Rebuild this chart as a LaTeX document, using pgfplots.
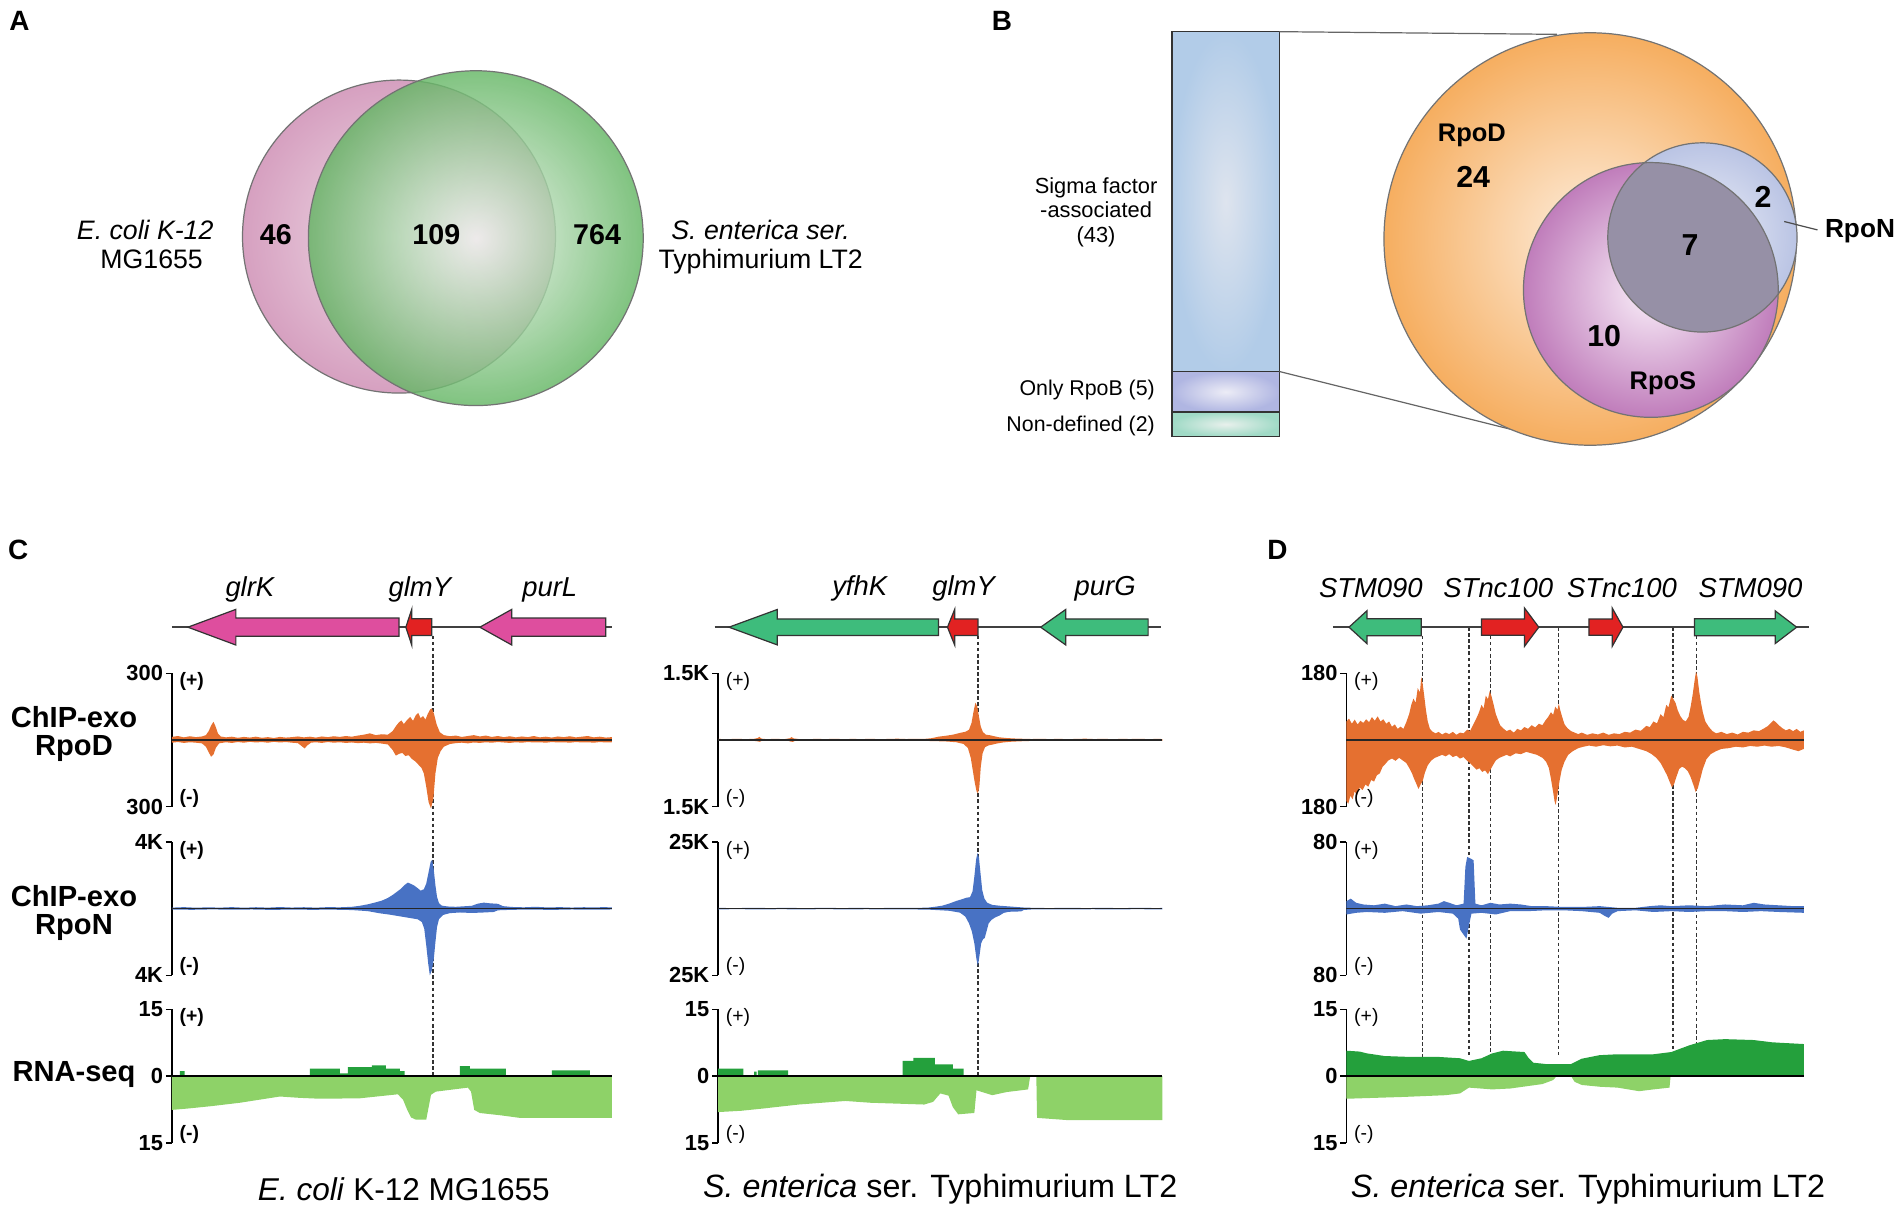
\documentclass[border=0pt]{standalone}
\usepackage{fontspec}
\setmainfont{Liberation Sans}
\usepackage{pgfplots}
\pgfplotsset{compat=1.18}

\definecolor{pkO}{RGB}{214,160,192}
\definecolor{pkI}{RGB}{240,222,232}
\definecolor{grO}{RGB}{100,182,100}
\definecolor{grI}{RGB}{240,244,240}
\definecolor{orO}{RGB}{246,174,96}
\definecolor{orI}{RGB}{253,238,222}
\definecolor{puO}{RGB}{192,125,187}
\definecolor{puI}{RGB}{250,240,250}
\definecolor{nbO}{RGB}{186,196,228}
\definecolor{nbI}{RGB}{238,240,248}
\definecolor{isx}{RGB}{150,144,166}
\definecolor{brB}{RGB}{178,204,232}
\definecolor{brBi}{RGB}{222,228,238}
\definecolor{brP}{RGB}{176,182,226}
\definecolor{brPi}{RGB}{236,236,246}
\definecolor{brT}{RGB}{160,218,198}
\definecolor{brTi}{RGB}{232,240,236}
\definecolor{cOr}{RGB}{229,112,48}
\definecolor{cBl}{RGB}{72,114,196}
\definecolor{cDg}{RGB}{36,160,60}
\definecolor{cLg}{RGB}{142,210,104}
\definecolor{gPk}{RGB}{222,78,158}
\definecolor{gRd}{RGB}{226,34,34}
\definecolor{gGr}{RGB}{62,188,124}

\pgfplotsset{
  trk/.style={scale only axis, anchor=south west, height=55pt, clip=false,
    axis x line=none, axis y line*=left, scaled y ticks=false,
    ymin=-#1, ymax=#1, ytick={-#1,#1},
    tick align=outside, major tick length=2.5pt,
    y axis line style={line width=0.6pt},
    ytick style={line width=0.6pt, black},
    yticklabel style={font=\fontsize{9}{10}\selectfont\bfseries, inner sep=1pt}},
  gene/.style={scale only axis, anchor=south west, height=15pt, hide axis,
    clip=false, ymin=-15, ymax=15},
  colA/.style={xmin=430, xmax=1530, width=181.3pt},
  colB/.style={xmin=275, xmax=1515, width=183.1pt},
  colC/.style={xmin=243, xmax=1520, width=188.5pt},
}
\tikzset{
  glab/.style={font=\fontsize{11.3}{12}\selectfont\itshape},
  garr/.style={draw=black!80, line width=0.5pt},
  dsh/.style={black!80, line width=0.55pt, dash pattern=on 1.5pt off 1pt},
  base/.style={black!85, line width=0.6pt},
  pplus/.style={anchor=west, inner sep=0pt, xshift=3pt, yshift=-3.5pt, font=\fontsize{8}{9}\selectfont#1},
  pminus/.style={anchor=west, inner sep=0pt, xshift=3pt, yshift=3.5pt, font=\fontsize{8}{9}\selectfont#1},
  vline/.style={draw=black!55, line width=0.5pt},
}

\begin{document}
\begin{tikzpicture}
% ---------- frame in picture pixels: panels A, B, labels ----------
\begin{axis}[name=bg, at={(0pt,0pt)}, anchor=south west, scale only axis,
  width=784pt, height=499.5pt, xmin=0, xmax=1568, ymin=0, ymax=999,
  y dir=reverse, hide axis, clip=false]
\path (axis cs:0,0) rectangle (axis cs:1568,999);

% panel A
\shade[inner color=pkI, outer color=pkO] (axis cs:328.9,195) circle[radius=64.5pt];
\draw[vline] (axis cs:328.9,195) circle[radius=64.5pt];
\shade[inner color=grI, outer color=grO, opacity=0.82] (axis cs:392.2,196.3) circle[radius=69pt];
\draw[vline] (axis cs:392.2,196.3) circle[radius=69pt];
\node[font=\fontsize{11}{12}\selectfont\itshape, anchor=east] at (axis cs:183,189.5) {E. coli K-12};
\node[font=\fontsize{11}{12}\selectfont] at (axis cs:125,214) {MG1655};
\node[font=\fontsize{11}{12}\selectfont\itshape] at (axis cs:627,189.5) {S. enterica ser.};
\node[font=\fontsize{11}{12}\selectfont] at (axis cs:627,215.6) {Typhimurium LT2};
\node[font=\fontsize{11.8}{12}\selectfont\bfseries] at (axis cs:227.4,193.6) {46};
\node[font=\fontsize{11.8}{12}\selectfont\bfseries] at (axis cs:359.7,193.6) {109};
\node[font=\fontsize{11.8}{12}\selectfont\bfseries] at (axis cs:492.2,193.6) {764};

% panel B
\shade[inner color=brBi, outer color=brB] (axis cs:966,26.1) rectangle (axis cs:1054.6,306.2);
\shade[inner color=brPi, outer color=brP] (axis cs:966,306.2) rectangle (axis cs:1054.6,339.7);
\shade[inner color=brTi, outer color=brT] (axis cs:966,339.7) rectangle (axis cs:1054.6,359.7);
\draw[black!80, line width=0.5pt] (axis cs:966,26.1) rectangle (axis cs:1054.6,359.7);
\draw[black!80, line width=0.7pt] (axis cs:966,306.2) -- (axis cs:1054.6,306.2);
\draw[black!80, line width=0.7pt] (axis cs:966,339.7) -- (axis cs:1054.6,339.7);
\draw[black!60, line width=0.5pt] (axis cs:1054.6,26.1) -- (axis cs:1283.4,28.3);
\draw[black!60, line width=0.5pt] (axis cs:1054.6,306.2) -- (axis cs:1258,357);
\shade[inner color=orI, outer color=orO] (axis cs:1310.8,197) circle[radius=85pt];
\draw[vline] (axis cs:1310.8,197) circle[radius=85pt];
\shade[inner color=puI, outer color=puO] (axis cs:1360.8,239) circle[radius=52.5pt];
\shade[inner color=nbI, outer color=nbO] (axis cs:1403.3,195.7) circle[radius=39pt];
\begin{scope}
\clip (axis cs:1360.8,239) circle[radius=52.5pt];
\fill[isx] (axis cs:1403.3,195.7) circle[radius=39pt];
\end{scope}
\draw[vline] (axis cs:1360.8,239) circle[radius=52.5pt];
\draw[vline] (axis cs:1403.3,195.7) circle[radius=39pt];
\draw[black!70, line width=0.5pt] (axis cs:1470.7,182.6) -- (axis cs:1498.2,189.5);
\node[font=\fontsize{9}{10}\selectfont, align=center] at (axis cs:903.5,175) {Sigma factor\\-associated\\(43)};
\node[font=\fontsize{8.8}{10}\selectfont, anchor=east] at (axis cs:959,321.3) {Only RpoB (5)};
\node[font=\fontsize{8.8}{10}\selectfont, anchor=east] at (axis cs:959,351.5) {Non-defined (2)};
\node[font=\fontsize{10.5}{12}\selectfont\bfseries] at (axis cs:1213.3,111.2) {RpoD};
\node[font=\fontsize{12.5}{13}\selectfont\bfseries] at (axis cs:1214.3,145.5) {24};
\node[font=\fontsize{12.5}{13}\selectfont\bfseries] at (axis cs:1453.2,162) {2};
\node[font=\fontsize{12.5}{13}\selectfont\bfseries] at (axis cs:1393.2,201.8) {7};
\node[font=\fontsize{12.5}{13}\selectfont\bfseries] at (axis cs:1322.3,277.3) {10};
\node[font=\fontsize{10.5}{12}\selectfont\bfseries] at (axis cs:1370.7,315.8) {RpoS};
\node[font=\fontsize{10.8}{12}\selectfont\bfseries] at (axis cs:1533.2,190.8) {RpoN};

% panel letters
\node[font=\fontsize{11.5}{12}\selectfont\bfseries] at (axis cs:16,17) {A};
\node[font=\fontsize{11.5}{12}\selectfont\bfseries] at (axis cs:826,17) {B};
\node[font=\fontsize{11.5}{12}\selectfont\bfseries] at (axis cs:15,453) {C};
\node[font=\fontsize{11.5}{12}\selectfont\bfseries] at (axis cs:1053,453) {D};

% row labels and captions
\node[font=\fontsize{12}{11.7}\selectfont\bfseries, align=center] at (axis cs:61,605) {ChIP-exo\\RpoD};
\node[font=\fontsize{12}{11.7}\selectfont\bfseries, align=center] at (axis cs:61,752.4) {ChIP-exo\\RpoN};
\node[font=\fontsize{12}{12}\selectfont\bfseries] at (axis cs:61,885.7) {RNA-seq};
\node[font=\fontsize{13}{14}\selectfont] at (axis cs:332.9,980) {\textit{E. coli} K-12 MG1655};
\node[font=\fontsize{13.3}{14}\selectfont] at (axis cs:775,980) {\textit{S. enterica} ser. Typhimurium LT2};
\node[font=\fontsize{13.3}{14}\selectfont] at (axis cs:1309,980) {\textit{S. enterica} ser. Typhimurium LT2};

% anchors of the track axes (south west corners)
\coordinate (Ag) at (axis cs:141.7,532);
\coordinate (Ad) at (axis cs:141.7,665);
\coordinate (An) at (axis cs:141.7,804);
\coordinate (Ar) at (axis cs:141.7,942);
\coordinate (Bg) at (axis cs:592.0,532);
\coordinate (Bd) at (axis cs:592.0,665);
\coordinate (Bn) at (axis cs:592.0,804);
\coordinate (Br) at (axis cs:592.0,942);
\coordinate (Cg) at (axis cs:1109.9,532);
\coordinate (Cd) at (axis cs:1109.9,665);
\coordinate (Cn) at (axis cs:1109.9,804);
\coordinate (Cr) at (axis cs:1109.9,942);
\end{axis}

% ================= column 1: E. coli =================
\begin{axis}[gene, colA, at={(Ag)}]
\addplot[dsh] coordinates {(1083,-7) (1083,-369)};
\addplot[black!75, line width=0.6pt] coordinates {(430,0) (1530,0)};
\addplot[garr, fill=gPk] coordinates {(998,7.5) (590,7.5) (590,14.7) (470,0) (590,-14.7) (590,-7.5) (998,-7.5)} -- cycle;
\addplot[garr, fill=gRd] coordinates {(1080,6.9) (1030,6.9) (1030,15) (1015,0) (1030,-15) (1030,-6.9) (1080,-6.9)} -- cycle;
\addplot[garr, fill=gPk] coordinates {(1515,7.5) (1280,7.5) (1280,14.7) (1200,0) (1280,-14.7) (1280,-7.5) (1515,-7.5)} -- cycle;
\node[glab] at (axis cs:625,31) {glrK};
\node[glab] at (axis cs:1050,31) {glmY};
\node[glab] at (axis cs:1375,31) {purL};
\end{axis}

\begin{axis}[trk=300, colA, at={(Ad)}, yticklabels={300,300}]
\addplot[fill=cOr, draw=none] coordinates {(430,0)(430,14)(445,18)(460,12)(475,17)(490,13)(505,16)(515,22)(522,40)(528,65)(534,82)(539,62)(545,30)(552,16)(565,12)(580,15)(595,10)(610,14)(625,11)(640,15)(655,10)(670,13)(685,9)(700,14)(715,11)(730,13)(745,16)(760,12)(775,15)(790,11)(805,16)(820,13)(835,17)(850,14)(865,18)(880,15)(895,20)(910,24)(925,30)(940,22)(955,26)(970,24)(982,40)(990,62)(998,80)(1004,88)(1010,72)(1018,90)(1026,104)(1033,86)(1040,112)(1046,122)(1052,98)(1058,108)(1064,92)(1070,118)(1076,138)(1080,142)(1085,120)(1092,70)(1100,35)(1110,22)(1125,17)(1140,20)(1155,14)(1170,18)(1185,22)(1200,16)(1215,20)(1230,14)(1245,18)(1260,13)(1275,17)(1290,12)(1305,16)(1320,13)(1335,18)(1350,12)(1365,15)(1380,11)(1395,16)(1410,13)(1425,17)(1440,12)(1455,15)(1470,18)(1485,12)(1500,15)(1515,11)(1530,13)(1530,0)};
\addplot[fill=cOr, draw=none] coordinates {(430,0)(430,-12)(445,-9)(460,-13)(475,-10)(490,-12)(505,-15)(515,-30)(522,-55)(528,-75)(534,-65)(540,-35)(548,-15)(565,-10)(580,-13)(595,-9)(610,-12)(625,-8)(640,-11)(655,-9)(670,-12)(685,-8)(700,-11)(715,-9)(730,-12)(745,-14)(755,-28)(762,-38)(768,-25)(778,-12)(790,-10)(805,-13)(820,-9)(835,-12)(850,-10)(865,-13)(880,-11)(895,-14)(910,-12)(925,-15)(940,-13)(955,-16)(970,-20)(982,-45)(990,-70)(998,-62)(1006,-58)(1014,-72)(1022,-68)(1030,-85)(1038,-95)(1046,-110)(1054,-125)(1060,-150)(1066,-210)(1072,-280)(1078,-308)(1084,-260)(1089,-150)(1095,-80)(1102,-50)(1110,-30)(1125,-18)(1140,-14)(1155,-12)(1170,-15)(1185,-11)(1200,-13)(1215,-10)(1230,-12)(1245,-9)(1260,-11)(1275,-13)(1290,-10)(1305,-12)(1320,-9)(1335,-11)(1350,-10)(1365,-12)(1380,-9)(1395,-11)(1410,-10)(1425,-12)(1440,-9)(1455,-11)(1470,-10)(1485,-12)(1500,-9)(1515,-11)(1530,-10)(1530,0)};
\addplot[base] coordinates {(430,0) (1530,0)};
\node[pplus=\bfseries] at (rel axis cs:0,1) {(+)};
\node[pminus=\bfseries] at (rel axis cs:0,0) {(-)};
\end{axis}

\begin{axis}[trk=4000, colA, at={(An)}, yticklabels={4K,4K}]
\addplot[fill=cBl, draw=none] coordinates {(430,0)(430,60)(460,90)(490,55)(520,80)(550,60)(580,90)(610,55)(640,85)(670,60)(700,95)(730,65)(760,85)(790,60)(820,90)(850,80)(880,110)(900,170)(920,260)(940,380)(955,480)(970,640)(982,820)(992,1000)(1002,1180)(1012,1420)(1020,1560)(1028,1480)(1036,1380)(1044,1240)(1052,1080)(1060,1160)(1066,1500)(1072,2200)(1077,2800)(1081,2930)(1085,2300)(1089,1400)(1093,700)(1098,320)(1105,180)(1120,130)(1140,110)(1160,140)(1180,170)(1195,300)(1210,360)(1225,320)(1245,290)(1258,150)(1280,100)(1310,80)(1340,110)(1370,70)(1400,90)(1430,65)(1460,85)(1490,70)(1510,95)(1530,70)(1530,0)};
\addplot[fill=cBl, draw=none] coordinates {(430,0)(430,-50)(480,-70)(530,-45)(580,-65)(630,-50)(680,-75)(730,-55)(780,-70)(830,-60)(880,-85)(920,-150)(950,-280)(975,-360)(1000,-460)(1025,-560)(1045,-640)(1055,-800)(1061,-1200)(1066,-2200)(1071,-3300)(1075,-4000)(1080,-3700)(1085,-3000)(1089,-2000)(1093,-1100)(1098,-620)(1108,-380)(1125,-270)(1150,-230)(1180,-260)(1210,-230)(1235,-200)(1245,-100)(1280,-70)(1330,-55)(1380,-75)(1430,-50)(1480,-65)(1530,-50)(1530,0)};
\addplot[base] coordinates {(430,0) (1530,0)};
\node[pplus=\bfseries] at (rel axis cs:0,1) {(+)};
\node[pminus=\bfseries] at (rel axis cs:0,0) {(-)};
\end{axis}

\begin{axis}[trk=15, colA, at={(Ar)}, ytick={-15,0,15}, yticklabels={15,0,15}]
\addplot[const plot, fill=cDg, draw=none] coordinates {(430,0)(450,1.1)(462,0)(775,1.7)(850,0.6)(870,2.0)(930,2.4)(965,1.7)(1000,1.1)(1012,0)(1150,2.25)(1175,1.7)(1265,0)(1380,1.3)(1475,0)(1530,0)};
\addplot[fill=cLg, draw=none] coordinates {(430,0)(430,-7.6)(470,-7.3)(530,-6.75)(600,-6)(650,-5.3)(700,-4.6)(750,-4.9)(800,-5.1)(900,-5.0)(995,-4.1)(1008,-5.3)(1018,-7.5)(1028,-9.3)(1040,-9.8)(1066,-9.8)(1072,-7)(1078,-4.2)(1090,-3.5)(1170,-2.6)(1178,-3.5)(1186,-7.6)(1200,-8.3)(1250,-8.8)(1300,-9.4)(1530,-9.4)(1530,0)};
\addplot[black, line width=0.9pt] coordinates {(430,0) (1530,0)};
\node[pplus=\bfseries] at (rel axis cs:0,1) {(+)};
\node[pminus=\bfseries] at (rel axis cs:0,0) {(-)};
\end{axis}

% ================= column 2: S. enterica, glmY =================
\begin{axis}[gene, colB, at={(Bg)}]
\addplot[dsh] coordinates {(1000,-7) (1000,-372)};
\addplot[black!75, line width=0.6pt] coordinates {(265,0) (1510,0)};
\addplot[garr, fill=gGr] coordinates {(890,6.8) (440,6.8) (440,14.6) (305,0) (440,-14.6) (440,-6.8) (890,-6.8)} -- cycle;
\addplot[garr, fill=gRd] coordinates {(1000,6.8) (935,6.8) (935,14.6) (915,0) (935,-14.6) (935,-6.8) (1000,-6.8)} -- cycle;
\addplot[garr, fill=gGr] coordinates {(1475,6.8) (1245,6.8) (1245,14.6) (1175,0) (1245,-14.6) (1245,-6.8) (1475,-6.8)} -- cycle;
\node[glab] at (axis cs:670,32) {yfhK};
\node[glab] at (axis cs:960,32) {glmY};
\node[glab] at (axis cs:1355,32) {purG};
\end{axis}

\begin{axis}[trk=1500, colB, at={(Bd)}, yticklabels={1.5K,1.5K}]
\addplot[fill=cOr, draw=none] coordinates {(275,0)(275,25)(300,18)(325,28)(350,20)(375,26)(385,45)(390,70)(396,30)(410,20)(435,26)(460,19)(475,40)(480,65)(486,35)(500,22)(525,18)(550,26)(575,20)(600,28)(625,19)(650,25)(675,20)(700,27)(725,19)(750,24)(775,30)(800,22)(825,28)(850,25)(870,40)(890,75)(910,95)(930,120)(950,160)(965,185)(975,230)(982,380)(988,650)(993,840)(998,760)(1003,520)(1008,300)(1014,180)(1022,120)(1035,105)(1048,80)(1060,60)(1080,45)(1100,35)(1125,28)(1150,22)(1175,28)(1200,20)(1225,26)(1250,19)(1275,25)(1300,30)(1325,21)(1350,27)(1375,19)(1400,25)(1425,22)(1450,28)(1475,20)(1500,25)(1515,22)(1515,0)};
\addplot[fill=cOr, draw=none] coordinates {(275,0)(275,-20)(300,-15)(325,-22)(350,-16)(375,-20)(385,-30)(391,-40)(397,-18)(420,-16)(445,-21)(470,-17)(477,-35)(483,-42)(490,-16)(520,-14)(560,-19)(600,-15)(640,-20)(680,-14)(720,-18)(760,-15)(800,-20)(840,-17)(880,-25)(910,-32)(940,-50)(960,-90)(972,-180)(980,-400)(986,-700)(991,-950)(996,-1150)(1000,-1200)(1004,-1050)(1008,-600)(1013,-300)(1020,-160)(1030,-120)(1042,-100)(1055,-75)(1070,-55)(1090,-40)(1110,-32)(1130,-25)(1160,-18)(1200,-22)(1240,-15)(1280,-19)(1320,-14)(1360,-18)(1400,-15)(1440,-20)(1480,-14)(1515,-17)(1515,0)};
\addplot[base] coordinates {(275,0) (1515,0)};
\node[pplus=] at (rel axis cs:0,1) {(+)};
\node[pminus=] at (rel axis cs:0,0) {(-)};
\end{axis}

\begin{axis}[trk=25000, colB, at={(Bn)}, yticklabels={25K,25K}]
\addplot[fill=cBl, draw=none] coordinates {(275,0)(275,280)(320,200)(370,300)(420,220)(470,280)(520,200)(570,290)(620,220)(670,280)(720,210)(770,300)(820,260)(860,380)(880,700)(900,1100)(920,1900)(940,2900)(955,3500)(968,4100)(978,4300)(985,6500)(990,12000)(995,18500)(999,20800)(1003,19000)(1007,13500)(1012,7000)(1018,3800)(1026,2200)(1040,1400)(1060,1100)(1085,850)(1110,600)(1130,400)(1160,280)(1200,220)(1250,300)(1300,220)(1350,280)(1400,210)(1450,290)(1500,220)(1515,260)(1515,0)};
\addplot[fill=cBl, draw=none] coordinates {(275,0)(275,-260)(330,-200)(390,-280)(450,-210)(510,-270)(570,-200)(630,-260)(690,-220)(750,-280)(810,-260)(870,-420)(920,-800)(950,-1500)(965,-3000)(975,-5500)(983,-8500)(990,-13000)(996,-19000)(1000,-21500)(1004,-18000)(1009,-13000)(1014,-11500)(1019,-11000)(1024,-8500)(1030,-5500)(1038,-4200)(1048,-3300)(1060,-2600)(1072,-1600)(1085,-1200)(1100,-1100)(1120,-1050)(1128,-500)(1150,-300)(1200,-240)(1260,-300)(1320,-220)(1380,-280)(1440,-210)(1515,-260)(1515,0)};
\addplot[base] coordinates {(275,0) (1515,0)};
\node[pplus=] at (rel axis cs:0,1) {(+)};
\node[pminus=] at (rel axis cs:0,0) {(-)};
\end{axis}

\begin{axis}[trk=15, colB, at={(Br)}, ytick={-15,0,15}, yticklabels={15,0,15}]
\addplot[const plot, fill=cDg, draw=none] coordinates {(275,0)(275,1.7)(345,0)(375,1.0)(382,0)(386,1.3)(470,0)(790,3.4)(820,4.1)(880,2.6)(930,1.7)(960,0)(1515,0)};
\addplot[fill=cLg, draw=none] coordinates {(275,0)(275,-8.1)(340,-7.8)(400,-7.3)(500,-6.4)(630,-5.6)(700,-6.0)(850,-6.4)(875,-5.8)(895,-3.9)(918,-4.4)(930,-7.0)(945,-8.6)(990,-8.3)(996,-3.2)(1040,-4.3)(1080,-3.6)(1140,-3.0)(1146,0)(1163,0)(1165,-9.4)(1250,-9.9)(1515,-9.9)(1515,0)};
\addplot[black, line width=0.9pt] coordinates {(275,0) (1515,0)};
\node[pplus=] at (rel axis cs:0,1) {(+)};
\node[pminus=] at (rel axis cs:0,0) {(-)};
\end{axis}

% ================= column 3: S. enterica, STnc100 =================
\begin{axis}[gene, colC, at={(Cg)}]
\addplot[dsh] coordinates {(455,-7) (455,-355)};
\addplot[dsh] coordinates {(585,0) (585,-355)};
\addplot[dsh] coordinates {(645,-7) (645,-355)};
\addplot[dsh] coordinates {(835,0) (835,-355)};
\addplot[dsh] coordinates {(1155,0) (1155,-355)};
\addplot[dsh] coordinates {(1220,-7) (1220,-355)};
\addplot[black!75, line width=0.6pt] coordinates {(205,0) (1535,0)};
\addplot[garr, fill=gGr] coordinates {(452,7) (300,7) (300,13.5) (250,0) (300,-13.5) (300,-7) (452,-7)} -- cycle;
\addplot[garr, fill=gRd] coordinates {(620,6.7) (740,6.7) (740,15.8) (780,0) (740,-15.8) (740,-6.7) (620,-6.7)} -- cycle;
\addplot[garr, fill=gRd] coordinates {(920,6.7) (985,6.7) (985,15.8) (1015,0) (985,-15.8) (985,-6.7) (920,-6.7)} -- cycle;
\addplot[garr, fill=gGr] coordinates {(1215,7) (1440,7) (1440,13.5) (1500,0) (1440,-13.5) (1440,-7) (1215,-7)} -- cycle;
\node[glab] at (axis cs:311,32) {STM090};
\node[glab] at (axis cs:667,32) {STnc100};
\node[glab] at (axis cs:1012,32) {STnc100};
\node[glab] at (axis cs:1371,32) {STM090};
\end{axis}

\begin{axis}[trk=180, colC, at={(Cd)}, yticklabels={180,180}]
\addplot[fill=cOr, draw=none] coordinates {(243,0)(243,50)(250,58)(258,44)(266,55)(274,42)(282,52)(290,46)(298,56)(306,48)(314,62)(322,52)(330,64)(338,50)(346,56)(354,44)(362,50)(370,36)(378,42)(386,30)(394,36)(402,30)(410,48)(418,70)(424,95)(430,112)(436,100)(442,140)(448,128)(452,170)(456,150)(460,120)(465,80)(470,50)(476,30)(484,22)(492,18)(500,22)(510,15)(520,20)(530,16)(540,22)(550,14)(560,20)(570,18)(580,28)(588,24)(596,40)(604,55)(612,72)(620,95)(626,85)(632,120)(638,110)(643,132)(648,118)(654,95)(660,70)(666,55)(672,40)(680,32)(690,24)(700,28)(710,20)(720,30)(730,26)(740,35)(750,30)(760,40)(770,34)(780,44)(790,40)(798,52)(806,62)(814,75)(820,68)(826,90)(832,82)(836,98)(840,80)(846,60)(852,42)(860,32)(870,24)(880,20)(890,16)(900,20)(915,14)(930,18)(945,15)(960,20)(975,14)(990,18)(1005,16)(1020,22)(1035,20)(1050,28)(1065,25)(1080,38)(1090,35)(1100,50)(1110,45)(1120,70)(1128,62)(1136,95)(1142,88)(1150,120)(1156,110)(1162,100)(1168,80)(1175,65)(1182,55)(1190,50)(1198,62)(1204,90)(1210,125)(1215,160)(1219,185)(1223,170)(1228,130)(1233,100)(1238,75)(1245,50)(1255,35)(1265,24)(1275,18)(1290,22)(1305,16)(1320,20)(1335,15)(1350,22)(1365,20)(1380,26)(1395,24)(1410,32)(1420,38)(1428,46)(1435,53)(1442,48)(1450,40)(1460,32)(1470,26)(1480,30)(1490,24)(1500,30)(1510,22)(1520,26)(1520,0)};
\addplot[fill=cOr, draw=none] coordinates {(243,0)(243,-165)(248,-172)(254,-150)(260,-160)(266,-138)(272,-150)(280,-128)(288,-135)(296,-120)(304,-126)(312,-108)(320,-112)(328,-95)(336,-90)(344,-72)(352,-64)(360,-55)(370,-50)(380,-56)(390,-48)(400,-55)(410,-62)(418,-75)(426,-90)(432,-105)(438,-118)(444,-132)(450,-120)(456,-110)(462,-88)(470,-68)(480,-55)(490,-48)(500,-44)(510,-40)(520,-44)(530,-38)(540,-46)(550,-42)(560,-50)(570,-46)(580,-56)(590,-64)(598,-72)(606,-80)(614,-76)(622,-86)(630,-82)(638,-92)(645,-80)(652,-68)(660,-55)(670,-48)(680,-44)(690,-40)(700,-44)(715,-36)(730,-38)(745,-32)(760,-36)(775,-40)(790,-48)(800,-58)(808,-75)(814,-105)(820,-140)(824,-165)(827,-175)(830,-160)(834,-135)(838,-110)(844,-80)(852,-58)(862,-40)(875,-30)(890,-22)(905,-18)(920,-15)(940,-18)(960,-14)(980,-17)(1000,-15)(1020,-20)(1040,-18)(1060,-24)(1080,-30)(1095,-38)(1108,-48)(1120,-62)(1130,-80)(1138,-95)(1145,-112)(1152,-128)(1158,-118)(1164,-100)(1172,-78)(1180,-72)(1188,-76)(1196,-84)(1204,-100)(1212,-122)(1218,-140)(1224,-130)(1230,-108)(1238,-78)(1248,-52)(1260,-38)(1275,-30)(1290,-24)(1310,-22)(1330,-18)(1350,-20)(1370,-16)(1390,-18)(1410,-15)(1430,-18)(1450,-16)(1470,-20)(1490,-26)(1505,-30)(1520,-24)(1520,0)};
\addplot[base] coordinates {(243,0) (1520,0)};
\node[pplus=] at (rel axis cs:0,1) {(+)};
\node[pminus=] at (rel axis cs:0,0) {(-)};
\end{axis}

\begin{axis}[trk=80, colC, at={(Cn)}, yticklabels={80,80}]
\addplot[fill=cBl, draw=none] coordinates {(243,0)(243,9)(255,12)(270,7)(290,5)(320,4)(350,6)(380,3)(410,5)(440,3)(470,4)(500,6)(515,9)(530,7)(550,4)(570,6)(575,50)(580,62)(590,60)(598,58)(603,6)(620,4)(645,7)(670,5)(700,6)(730,5)(760,3)(800,3)(850,2)(900,2)(950,3)(1000,1)(1050,1)(1090,3)(1120,4)(1150,3)(1200,4)(1250,3)(1300,5)(1350,4)(1380,7)(1410,5)(1450,4)(1490,3)(1520,3)(1520,0)};
\addplot[fill=cBl, draw=none] coordinates {(243,0)(243,-7)(270,-5)(300,-4)(350,-5)(400,-3)(450,-6)(500,-4)(540,-6)(555,-12)(560,-25)(568,-30)(578,-36)(585,-20)(592,-6)(620,-5)(660,-7)(700,-3)(750,-3)(800,-2)(850,-2)(900,-3)(950,-5)(965,-9)(975,-11)(985,-6)(1000,-3)(1050,-2)(1100,-4)(1150,-3)(1200,-4)(1250,-3)(1300,-3)(1350,-4)(1400,-3)(1450,-4)(1520,-5)(1520,0)};
\addplot[base] coordinates {(243,0) (1520,0)};
\node[pplus=] at (rel axis cs:0,1) {(+)};
\node[pminus=] at (rel axis cs:0,0) {(-)};
\end{axis}

\begin{axis}[trk=15, colC, at={(Cr)}, ytick={-15,0,15}, yticklabels={15,0,15}]
\addplot[fill=cDg, draw=none] coordinates {(243,0)(243,5.7)(280,5.5)(300,5.1)(350,4.5)(420,4.3)(500,4.3)(560,4.0)(585,3.4)(620,4.0)(650,5.1)(680,5.7)(740,5.4)(752,4.0)(765,3.0)(800,2.7)(870,2.7)(900,3.9)(950,4.7)(1000,4.9)(1100,4.9)(1150,5.4)(1200,6.9)(1250,8.1)(1300,8.3)(1380,8.1)(1430,7.6)(1450,7.5)(1520,7.2)(1520,0)};
\addplot[fill=cLg, draw=none] coordinates {(243,0)(243,-5.1)(400,-4.7)(520,-4.3)(560,-3.9)(585,-2.6)(650,-3.0)(700,-2.8)(790,-1.8)(820,-0.9)(830,0)(870,0)(880,-1.3)(900,-2.0)(950,-2.4)(1000,-2.6)(1060,-3.4)(1100,-3.0)(1145,-2.6)(1148,0)(1520,0)};
\addplot[black, line width=0.9pt] coordinates {(243,0) (1520,0)};
\node[pplus=] at (rel axis cs:0,1) {(+)};
\node[pminus=] at (rel axis cs:0,0) {(-)};
\end{axis}
\end{tikzpicture}
\end{document}
